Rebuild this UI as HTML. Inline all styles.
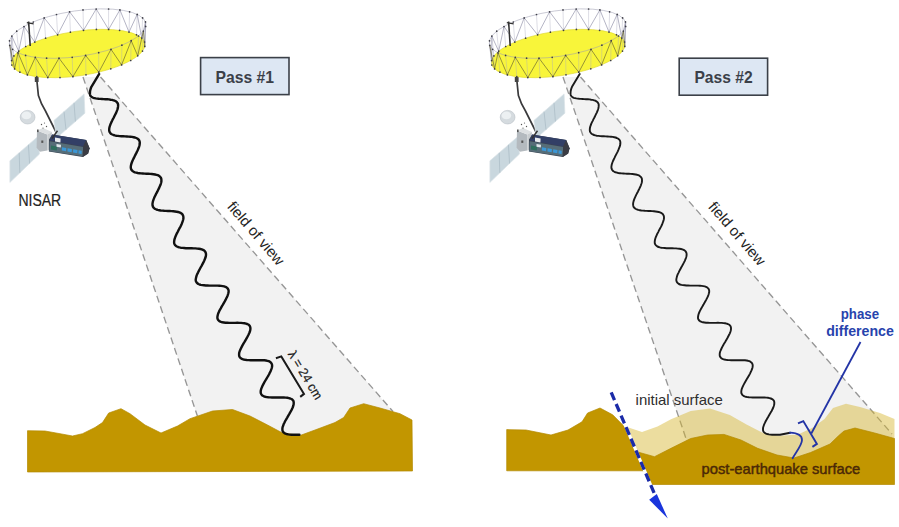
<!DOCTYPE html>
<html><head><meta charset="utf-8"><title>NISAR interferometry</title>
<style>
html,body{margin:0;padding:0;background:#fff}
svg{display:block}
text{font-family:"Liberation Sans",sans-serif}
</style></head>
<body>
<svg width="899" height="527" viewBox="0 0 899 527">
<defs>
<g id="sat">
  <!-- boom -->
  <path d="M36.6,78 L38.4,95.5 Q41,104 45.5,111 L56.5,133" fill="none" stroke="#3a3a3c" stroke-width="1.7"/>
  <rect x="34.8" y="77" width="3.8" height="5" fill="#444"/>
  <!-- reflector -->
  <ellipse cx="78.2" cy="53.5" rx="67.5" ry="22.3" transform="rotate(-8.5 78.2 53.5)" fill="#f8f53a" stroke="#dcd62e" stroke-width="0.6"/>
  <ellipse cx="77.6" cy="33.6" rx="69.0" ry="22.8" transform="rotate(-8.5 77.6 33.6)" fill="none" stroke="#9a9ab0" stroke-width="0.5"/>
  <path d="M145.5,21.9L144.6,42M145.7,26.4L144.8,46.4M143.4,31.1L142.5,51.1M138.5,36L137.7,55.8M131.2,40.7L130.7,60.5M121.9,45.2L121.6,64.9M111,49.3L110.8,68.8M98.7,52.7L98.8,72.2M85.6,55.4L86,74.8M72.2,57.3L72.9,76.7M59,58.2L60,77.6M46.6,58.2L47.8,77.6M35.3,57.3L36.8,76.7M25.6,55.4L27.4,74.9M18,52.8L19.9,72.2M12.6,49.3L14.6,68.9M9.7,45.3L11.8,65M9.5,40.8L11.6,60.6M11.8,36.1L13.9,55.9M16.7,31.2L18.7,51.2M24,26.5L25.7,46.5M33.3,22L34.8,42.1M44.2,17.9L45.6,38.2M56.5,14.5L57.6,34.8M69.6,11.8L70.4,32.2M83,9.9L83.5,30.3M96.2,9L96.4,29.4M108.6,9L108.6,29.4M119.9,9.9L119.6,30.3M129.6,11.8L129,32.1M137.2,14.4L136.5,34.8M142.6,17.9L141.8,38.1" stroke="#a9a9bd" stroke-width="0.4" fill="none"/>
  <path d="M145.5,21.9L144.8,46.4M9.7,45.3L11.6,60.6M11.6,60.6L11.8,36.1M11.8,36.1L18.7,51.2M18.7,51.2L24,26.5M24,26.5L34.8,42.1M34.8,42.1L44.2,17.9M44.2,17.9L57.6,34.8M57.6,34.8L69.6,11.8M69.6,11.8L83.5,30.3M83.5,30.3L96.2,9M96.2,9L108.6,29.4M108.6,29.4L119.9,9.9M119.9,9.9L129,32.1M129,32.1L137.2,14.4M137.2,14.4L141.8,38.1M141.8,38.1L145.5,21.9" stroke="#8d8da6" stroke-width="0.65" fill="none"/>
  <path d="M144.8,46.4L143.4,31.1M143.4,31.1L137.7,55.8M137.7,55.8L131.2,40.7M131.2,40.7L121.6,64.9M121.6,64.9L111,49.3M111,49.3L98.8,72.2M98.8,72.2L85.6,55.4M85.6,55.4L72.9,76.7M72.9,76.7L59,58.2M59,58.2L47.8,77.6M47.8,77.6L35.3,57.3M35.3,57.3L27.4,74.9M27.4,74.9L18,52.8M18,52.8L14.6,68.9M14.6,68.9L9.7,45.3" stroke="#6e6a34" stroke-width="0.7" fill="none"/>
  <g fill="#3d3d45"><circle cx="145.5" cy="21.9" r="0.85"/><circle cx="145.7" cy="26.4" r="0.85"/><circle cx="143.4" cy="31.1" r="0.85"/><circle cx="138.5" cy="36" r="0.85"/><circle cx="131.2" cy="40.7" r="0.85"/><circle cx="121.9" cy="45.2" r="0.85"/><circle cx="111" cy="49.3" r="0.85"/><circle cx="98.7" cy="52.7" r="0.85"/><circle cx="85.6" cy="55.4" r="0.85"/><circle cx="72.2" cy="57.3" r="0.85"/><circle cx="59" cy="58.2" r="0.85"/><circle cx="46.6" cy="58.2" r="0.85"/><circle cx="35.3" cy="57.3" r="0.85"/><circle cx="25.6" cy="55.4" r="0.85"/><circle cx="18" cy="52.8" r="0.85"/><circle cx="12.6" cy="49.3" r="0.85"/><circle cx="9.7" cy="45.3" r="0.85"/><circle cx="9.5" cy="40.8" r="0.85"/><circle cx="11.8" cy="36.1" r="0.85"/><circle cx="16.7" cy="31.2" r="0.85"/><circle cx="24" cy="26.5" r="0.85"/><circle cx="33.3" cy="22" r="0.85"/><circle cx="44.2" cy="17.9" r="0.85"/><circle cx="56.5" cy="14.5" r="0.85"/><circle cx="69.6" cy="11.8" r="0.85"/><circle cx="83" cy="9.9" r="0.85"/><circle cx="96.2" cy="9" r="0.85"/><circle cx="108.6" cy="9" r="0.85"/><circle cx="119.9" cy="9.9" r="0.85"/><circle cx="129.6" cy="11.8" r="0.85"/><circle cx="137.2" cy="14.4" r="0.85"/><circle cx="142.6" cy="17.9" r="0.85"/><circle cx="144.6" cy="42" r="0.85"/><circle cx="144.8" cy="46.4" r="0.85"/><circle cx="142.5" cy="51.1" r="0.85"/><circle cx="137.7" cy="55.8" r="0.85"/><circle cx="130.7" cy="60.5" r="0.85"/><circle cx="121.6" cy="64.9" r="0.85"/><circle cx="110.8" cy="68.8" r="0.85"/><circle cx="98.8" cy="72.2" r="0.85"/><circle cx="86" cy="74.8" r="0.85"/><circle cx="72.9" cy="76.7" r="0.85"/><circle cx="60" cy="77.6" r="0.85"/><circle cx="47.8" cy="77.6" r="0.85"/><circle cx="36.8" cy="76.7" r="0.85"/><circle cx="27.4" cy="74.9" r="0.85"/><circle cx="19.9" cy="72.2" r="0.85"/><circle cx="14.6" cy="68.9" r="0.85"/><circle cx="11.8" cy="65" r="0.85"/><circle cx="11.6" cy="60.6" r="0.85"/><circle cx="13.9" cy="55.9" r="0.85"/><circle cx="18.7" cy="51.2" r="0.85"/><circle cx="25.7" cy="46.5" r="0.85"/><circle cx="34.8" cy="42.1" r="0.85"/><circle cx="45.6" cy="38.2" r="0.85"/><circle cx="57.6" cy="34.8" r="0.85"/><circle cx="70.4" cy="32.2" r="0.85"/><circle cx="83.5" cy="30.3" r="0.85"/><circle cx="96.4" cy="29.4" r="0.85"/><circle cx="108.6" cy="29.4" r="0.85"/><circle cx="119.6" cy="30.3" r="0.85"/><circle cx="129" cy="32.1" r="0.85"/><circle cx="136.5" cy="34.8" r="0.85"/><circle cx="141.8" cy="38.1" r="0.85"/></g>
  <!-- mast -->
  <path d="M28.6,21.5 L30.2,46" stroke="#333" stroke-width="1.6" fill="none"/>
  <path d="M26.8,22.6 L33.6,23.8" stroke="#333" stroke-width="1.3" fill="none"/>
  <!-- high gain antenna -->
  <ellipse cx="27.6" cy="117.2" rx="7.4" ry="6.8" fill="#d5dbdf" stroke="#b9c0c6" stroke-width="0.6"/>
  <ellipse cx="26.4" cy="115.4" rx="4.8" ry="3.9" fill="#ecf0f2"/>
  <!-- upper solar panel -->
  <polygon points="53.9,120.5 84.1,93.9 84.9,113.2 56.5,138" fill="#c9d7de" stroke="#dbe4e8" stroke-width="0.7"/>
  <path d="M64,111.6 L66,129.7 M74,102.8 L75.4,121.5" stroke="#a9bac4" stroke-width="0.7"/>
  <!-- lower solar panel -->
  <polygon points="37.7,136.7 9.9,160.8 9.9,182.4 39.5,154" fill="#c9d7de" stroke="#dbe4e8" stroke-width="0.7"/>
  <path d="M28.4,144.7 L29.6,163.5 M19.2,152.8 L19.8,172.9" stroke="#a9bac4" stroke-width="0.7"/>
  <!-- bus: gray box -->
  <polygon points="37,130.4 47.3,134.4 47.3,150.5 40,151.8 36.6,147.8" fill="#b4babf"/>
  <polygon points="37,130.4 43,128 52,132 47.3,134.4" fill="#dde0e2"/>
  <polygon points="47.3,134.4 52,132 52,148 47.3,150.5" fill="#c9cdd0"/>
  <rect x="41.3" y="140.5" width="2" height="2.4" fill="#555"/>
  <g fill="#555"><circle cx="41.5" cy="124.5" r=".7"/><circle cx="44.5" cy="123" r=".6"/><circle cx="46.5" cy="126.5" r=".7"/><circle cx="43" cy="128" r=".6"/><rect x="37" y="129.5" width="1.6" height="2.6"/></g>
  <!-- radar electronics box -->
  <polygon points="52.1,134.5 86.2,140 89.6,148.2 88.2,153.5 82.8,156.9 48.9,151.6 49,139.6" fill="#3b4250"/>
  <polygon points="52.1,134.5 86.2,140 83.2,146.4 49.6,140.6" fill="#323f66"/>
  <polygon points="49.6,141.2 83.2,147 82.6,156.3 49.2,151.2" fill="#566d78"/>
  <polygon points="83.2,146.6 86.2,140 89.6,148.2 88.2,153.5 82.8,156.9" fill="#3a3c44"/>
  <path d="M62,147.2 l4.3,.75 l-.2,3.3 l-4.3,-.75z M67.6,148.2 l4.3,.75 l-.2,3.3 l-4.3,-.75z M73.2,149.2 l4.3,.75 l-.2,3.3 l-4.3,-.75z M78.6,150.2 l3.2,.6 l-.2,3.2 l-3.2,-.6z" fill="#3b97d6"/>
  <polygon points="51,145.5 57,146.5 56.8,150.5 51,149.5" fill="#2f6f5e"/>
  <polygon points="55,137.6 60.6,138.6 60.4,142.4 55,141.4" fill="#e9ecee"/>
  <polygon points="56.5,144 61,144.8 60.8,147.6 56.5,146.8" fill="#dfe6ea"/>
  <path d="M52,138.5 L57.5,130.8" stroke="#333" stroke-width="1.5"/>
</g>
</defs>
<rect width="899" height="527" fill="#fff"/>

<!-- ===== LEFT PANEL ===== -->
<polygon points="83,77 100.5,77 393,411.5 393,440 197.4,440 197.4,416" fill="#f2f2f2"/>
<path d="M83,77 L197.4,416" stroke="#969696" stroke-width="1.35" stroke-dasharray="7 4" fill="none"/>
<path d="M100.5,77 L393,411.5" stroke="#969696" stroke-width="1.35" stroke-dasharray="7 4" fill="none"/>
<polygon points="27.5,430.7 45,431 60,433.7 72.5,436 82.5,433.7 95,427.5 102.5,422.5 108.7,413 121,408.7 130,413.7 145,425 161,433 177.5,426 190,418.7 212.5,411 232.5,409.5 250,416 267.5,425 282.5,433 300,435.5 315,430 335,422.5 343.7,417.5 350,408 363.7,403.7 380,408 400,413.7 412,420 412.5,471 27.5,472" fill="#c29600" stroke="#b38a00" stroke-width="0.7" stroke-linejoin="round"/>
<path d="M99.1,74.1L91.4,86.8L90.8,88.3L90.4,89.7L90.1,91L90,92.3L89.9,93.4L90,94.4L90.2,95.3L90.7,96.1L91.4,96.7L92.2,97.3L93.2,97.8L94.4,98.1L95.7,98.4L97.2,98.6L98.7,98.8L100.3,98.9L102,99L103.6,99.1L105.5,99.2L107.3,99.3L109,99.4L110.6,99.7L112.1,99.9L113.5,100.3L114.7,100.7L115.8,101.3L116.6,101.9L117.3,102.7L117.8,103.6L118.1,104.6L118.1,105.7L118,106.9L117.8,108.2L117.4,109.6L116.8,111.1L116.2,112.6L115.4,114.2L114.6,115.8L113.8,117.5L112.9,119.1L112.1,120.8L111.3,122.4L110.6,123.9L110.1,125.4L109.6,126.8L109.3,128.2L109.2,129.4L109.2,130.5L109.4,131.6L109.9,132.5L110.5,133.3L111.3,134L112.3,134.5L113.5,135L114.8,135.4L116.3,135.7L117.9,135.9L119.6,136.1L121.4,136.2L123.2,136.3L125,136.4L126.9,136.5L128.7,136.6L130.4,136.7L132.1,136.9L133.6,137.2L135,137.5L136.2,138L137.3,138.5L138.2,139.2L138.9,139.9L139.4,140.8L139.7,141.8L139.8,142.8L139.7,144L139.5,145.3L139.1,146.7L138.5,148.2L137.9,149.7L137.2,151.3L136.4,152.9L135.5,154.6L134.7,156.2L133.9,157.9L133.1,159.5L132.4,161L131.8,162.5L131.3,164L131,165.3L130.8,166.6L130.8,167.7L131,168.7L131.4,169.7L132,170.5L132.8,171.2L133.8,171.8L134.9,172.3L136.3,172.6L137.7,173L139.3,173.2L141,173.4L142.8,173.5L144.6,173.6L146.4,173.7L148.3,173.8L150.1,173.9L151.8,174L153.5,174.2L155.1,174.5L156.5,174.8L157.7,175.2L158.8,175.7L159.7,176.4L160.4,177.1L161,178L161.3,178.9L161.4,180L161.4,181.2L161.2,182.5L160.8,183.8L160.3,185.3L159.6,186.8L158.9,188.4L158.1,190L157.3,191.7L156.4,193.3L155.6,194.9L154.8,196.6L154.1,198.1L153.5,199.6L153,201.1L152.7,202.4L152.5,203.7L152.5,204.9L152.7,205.9L153,206.9L153.6,207.7L154.4,208.4L155.3,209L156.4,209.5L157.7,209.9L159.2,210.2L160.7,210.5L162.4,210.6L164.2,210.8L166,210.9L167.9,211L169.7,211L171.6,211.1L173.3,211.3L175,211.5L176.6,211.7L178.1,212L179.4,212.4L180.5,212.9L181.5,213.5L182.3,214.2L182.8,215.1L183.2,216L183.4,217.1L183.4,218.2L183.2,219.5L182.8,220.9L182.3,222.3L181.7,223.9L181,225.5L180.2,227.1L179.3,228.7L178.4,230.4L177.6,232.1L176.7,233.7L176,235.3L175.3,236.9L174.8,238.3L174.4,239.7L174.2,241L174.1,242.2L174.2,243.3L174.6,244.3L175.1,245.1L175.9,245.8L176.8,246.5L178,247L179.3,247.4L180.7,247.7L182.4,247.9L184.1,248L185.9,248.2L187.8,248.2L189.7,248.3L191.7,248.3L193.6,248.4L195.4,248.4L197.2,248.6L198.9,248.8L200.4,249L201.8,249.4L203,249.9L204,250.4L204.8,251.1L205.4,252L205.8,252.9L206,253.9L206,255.1L205.8,256.4L205.4,257.8L204.8,259.3L204.2,260.8L203.4,262.4L202.5,264.1L201.6,265.8L200.6,267.5L199.7,269.2L198.8,270.9L198,272.6L197.2,274.1L196.6,275.7L196.2,277.1L195.9,278.4L195.7,279.6L195.8,280.8L196.1,281.7L196.7,282.6L197.4,283.3L198.3,284L199.5,284.5L200.8,284.9L202.3,285.1L204,285.3L205.8,285.5L207.6,285.5L209.6,285.6L211.6,285.6L213.6,285.6L215.6,285.6L217.5,285.6L219.4,285.7L221.1,285.9L222.7,286.1L224.2,286.4L225.4,286.8L226.5,287.4L227.3,288.1L228,288.9L228.4,289.8L228.6,290.8L228.6,292L228.3,293.3L227.9,294.7L227.4,296.2L226.6,297.8L225.8,299.4L224.9,301.1L223.9,302.8L222.9,304.6L221.8,306.4L220.9,308.1L219.9,309.8L219.1,311.4L218.4,313L217.9,314.4L217.6,315.8L217.4,317L217.4,318.2L217.7,319.2L218.2,320L218.9,320.8L219.8,321.4L221,321.9L222.3,322.3L223.8,322.5L225.5,322.7L227.3,322.8L229.2,322.9L231.2,322.9L233.2,322.9L235.3,322.9L237.3,322.8L239.2,322.9L241.1,322.9L242.9,323.1L244.5,323.3L246,323.6L247.2,324L248.3,324.5L249.2,325.2L249.8,326L250.2,326.9L250.4,327.9L250.4,329.1L250.2,330.4L249.8,331.8L249.2,333.3L248.5,334.8L247.6,336.5L246.7,338.2L245.7,339.9L244.7,341.7L243.6,343.4L242.6,345.2L241.7,346.9L240.9,348.5L240.2,350.1L239.6,351.5L239.2,352.9L239.1,354.2L239.1,355.3L239.3,356.3L239.8,357.2L240.5,358L241.4,358.6L242.5,359.1L243.8,359.5L245.3,359.8L246.9,360L248.7,360.1L250.6,360.2L252.6,360.2L254.6,360.2L256.6,360.2L258.7,360.1L260.6,360.2L262.5,360.2L264.3,360.3L266,360.5L267.4,360.8L268.7,361.2L269.8,361.7L270.7,362.4L271.4,363.2L271.8,364L272.1,365.1L272.1,366.2L271.9,367.5L271.5,368.9L270.9,370.4L270.2,371.9L269.4,373.6L268.5,375.3L267.5,377L266.4,378.8L265.4,380.5L264.4,382.2L263.5,383.9L262.6,385.6L261.9,387.2L261.3,388.6L260.9,390L260.7,391.3L260.7,392.5L260.9,393.5L261.4,394.4L262,395.2L262.9,395.8L264,396.4L265.2,396.8L266.7,397.1L268.4,397.3L270.1,397.4L272,397.5L274,397.5L276,397.5L278,397.5L280.1,397.4L282,397.5L283.9,397.5L285.7,397.6L287.4,397.8L288.9,398.1L290.2,398.5L291.4,399L292.3,399.6L293,400.3L293.5,401.2L293.7,402.2L293.7,403.4L293.6,404.6L293.2,406L292.7,407.5L292,409L291.2,410.7L290.2,412.3L289.2,414.1L288.2,415.8L287.2,417.6L286.2,419.3L285.2,421L284.4,422.7L283.6,424.3L283.1,425.8L282.6,427.2L282.4,428.5L282.4,429.6L282.5,430.7L282.9,431.6L283.6,432.4L284.4,433.1L285.5,433.6L286.7,434L288.2,434.4L289.8,434.6L291.5,434.7L293.4,434.8L295.4,434.8L297.4,434.8L299.4,434.8" fill="none" stroke="#111" stroke-width="2.4" stroke-linecap="round" stroke-linejoin="round"/>
<use href="#sat"/>
<path d="M275.9,358.2 L281.3,356.4 L304,393.9 L300.2,396.9" fill="none" stroke="#1a1a1a" stroke-width="2" stroke-linejoin="miter"/>
<text transform="translate(287.5,354) rotate(59)" font-size="13" fill="#1a1a1a" stroke="#1a1a1a" stroke-width="0.2" textLength="54.5" lengthAdjust="spacingAndGlyphs">λ = 24 cm</text>
<text transform="translate(226.4,207) rotate(49.2)" font-size="15" fill="#222" textLength="78.5" lengthAdjust="spacingAndGlyphs">field of view</text>
<text x="18.4" y="206.3" font-size="16" fill="#222" stroke="#222" stroke-width="0.2" textLength="42.8" lengthAdjust="spacingAndGlyphs">NISAR</text>
<rect x="200.6" y="57.6" width="88.4" height="37" fill="#dde7f3" stroke="#3b4048" stroke-width="1.6"/>
<text x="215.4" y="83.3" font-size="16.7" font-weight="bold" fill="#3b4048" textLength="58.6" lengthAdjust="spacingAndGlyphs">Pass #1</text>

<!-- ===== RIGHT PANEL ===== -->
<polygon points="563,77 580.5,77 892,434 892,462 686.5,462 686.5,440" fill="#f2f2f2"/>
<path d="M563,77 L686.5,440" stroke="#969696" stroke-width="1.35" stroke-dasharray="7 4" fill="none"/>
<path d="M580.5,77 L892,434" stroke="#969696" stroke-width="1.35" stroke-dasharray="7 4" fill="none"/>
<polygon points="624,426 642,432 657.5,426.4 671,419.3 690.7,411 710,408.5 729.8,415 746.5,424.6 763,433 780,435.8 798,434.5 813,427.4 824.5,419 833,408 846,403.7 860,407 880,413 894.5,419 894.5,460 640,460" fill="rgb(213,179,42)" fill-opacity="0.45"/>
<polygon points="506.7,429.6 526,430 551,435 568,430 582,421.8 587.6,413 600,408 612.7,414.8 623.8,426 630,438 637.8,452 654.5,456.7 671,448.3 690.7,438.5 707.5,435 724,434.4 741,440 757.6,448.3 777,455 794,458 810.6,452.5 830,444 838.5,435.8 844,431 855,428 874.7,433 894.5,438.5 894.5,484.5 650,484.5 644.2,470.8 506.7,470.8" fill="#c29600" stroke="#b38a00" stroke-width="0.7" stroke-linejoin="round"/>
<g transform="translate(480.6,0)"><path d="M99.1,74.1L91.4,86.8L90.8,88.3L90.4,89.7L90.1,91L90,92.3L89.9,93.4L90,94.4L90.2,95.3L90.7,96.1L91.4,96.7L92.2,97.3L93.2,97.8L94.4,98.1L95.7,98.4L97.2,98.6L98.7,98.8L100.3,98.9L102,99L103.6,99.1L105.5,99.2L107.3,99.3L109,99.4L110.6,99.7L112.1,99.9L113.5,100.3L114.7,100.7L115.8,101.3L116.6,101.9L117.3,102.7L117.8,103.6L118.1,104.6L118.1,105.7L118,106.9L117.8,108.2L117.4,109.6L116.8,111.1L116.2,112.6L115.4,114.2L114.6,115.8L113.8,117.5L112.9,119.1L112.1,120.8L111.3,122.4L110.6,123.9L110.1,125.4L109.6,126.8L109.3,128.2L109.2,129.4L109.2,130.5L109.4,131.6L109.9,132.5L110.5,133.3L111.3,134L112.3,134.5L113.5,135L114.8,135.4L116.3,135.7L117.9,135.9L119.6,136.1L121.4,136.2L123.2,136.3L125,136.4L126.9,136.5L128.7,136.6L130.4,136.7L132.1,136.9L133.6,137.2L135,137.5L136.2,138L137.3,138.5L138.2,139.2L138.9,139.9L139.4,140.8L139.7,141.8L139.8,142.8L139.7,144L139.5,145.3L139.1,146.7L138.5,148.2L137.9,149.7L137.2,151.3L136.4,152.9L135.5,154.6L134.7,156.2L133.9,157.9L133.1,159.5L132.4,161L131.8,162.5L131.3,164L131,165.3L130.8,166.6L130.8,167.7L131,168.7L131.4,169.7L132,170.5L132.8,171.2L133.8,171.8L134.9,172.3L136.3,172.6L137.7,173L139.3,173.2L141,173.4L142.8,173.5L144.6,173.6L146.4,173.7L148.3,173.8L150.1,173.9L151.8,174L153.5,174.2L155.1,174.5L156.5,174.8L157.7,175.2L158.8,175.7L159.7,176.4L160.4,177.1L161,178L161.3,178.9L161.4,180L161.4,181.2L161.2,182.5L160.8,183.8L160.3,185.3L159.6,186.8L158.9,188.4L158.1,190L157.3,191.7L156.4,193.3L155.6,194.9L154.8,196.6L154.1,198.1L153.5,199.6L153,201.1L152.7,202.4L152.5,203.7L152.5,204.9L152.7,205.9L153,206.9L153.6,207.7L154.4,208.4L155.3,209L156.4,209.5L157.7,209.9L159.2,210.2L160.7,210.5L162.4,210.6L164.2,210.8L166,210.9L167.9,211L169.7,211L171.6,211.1L173.3,211.3L175,211.5L176.6,211.7L178.1,212L179.4,212.4L180.5,212.9L181.5,213.5L182.3,214.2L182.8,215.1L183.2,216L183.4,217.1L183.4,218.2L183.2,219.5L182.8,220.9L182.3,222.3L181.7,223.9L181,225.5L180.2,227.1L179.3,228.7L178.4,230.4L177.6,232.1L176.7,233.7L176,235.3L175.3,236.9L174.8,238.3L174.4,239.7L174.2,241L174.1,242.2L174.2,243.3L174.6,244.3L175.1,245.1L175.9,245.8L176.8,246.5L178,247L179.3,247.4L180.7,247.7L182.4,247.9L184.1,248L185.9,248.2L187.8,248.2L189.7,248.3L191.7,248.3L193.6,248.4L195.4,248.4L197.2,248.6L198.9,248.8L200.4,249L201.8,249.4L203,249.9L204,250.4L204.8,251.1L205.4,252L205.8,252.9L206,253.9L206,255.1L205.8,256.4L205.4,257.8L204.8,259.3L204.2,260.8L203.4,262.4L202.5,264.1L201.6,265.8L200.6,267.5L199.7,269.2L198.8,270.9L198,272.6L197.2,274.1L196.6,275.7L196.2,277.1L195.9,278.4L195.7,279.6L195.8,280.8L196.1,281.7L196.7,282.6L197.4,283.3L198.3,284L199.5,284.5L200.8,284.9L202.3,285.1L204,285.3L205.8,285.5L207.6,285.5L209.6,285.6L211.6,285.6L213.6,285.6L215.6,285.6L217.5,285.6L219.4,285.7L221.1,285.9L222.7,286.1L224.2,286.4L225.4,286.8L226.5,287.4L227.3,288.1L228,288.9L228.4,289.8L228.6,290.8L228.6,292L228.3,293.3L227.9,294.7L227.4,296.2L226.6,297.8L225.8,299.4L224.9,301.1L223.9,302.8L222.9,304.6L221.8,306.4L220.9,308.1L219.9,309.8L219.1,311.4L218.4,313L217.9,314.4L217.6,315.8L217.4,317L217.4,318.2L217.7,319.2L218.2,320L218.9,320.8L219.8,321.4L221,321.9L222.3,322.3L223.8,322.5L225.5,322.7L227.3,322.8L229.2,322.9L231.2,322.9L233.2,322.9L235.3,322.9L237.3,322.8L239.2,322.9L241.1,322.9L242.9,323.1L244.5,323.3L246,323.6L247.2,324L248.3,324.5L249.2,325.2L249.8,326L250.2,326.9L250.4,327.9L250.4,329.1L250.2,330.4L249.8,331.8L249.2,333.3L248.5,334.8L247.6,336.5L246.7,338.2L245.7,339.9L244.7,341.7L243.6,343.4L242.6,345.2L241.7,346.9L240.9,348.5L240.2,350.1L239.6,351.5L239.2,352.9L239.1,354.2L239.1,355.3L239.3,356.3L239.8,357.2L240.5,358L241.4,358.6L242.5,359.1L243.8,359.5L245.3,359.8L246.9,360L248.7,360.1L250.6,360.2L252.6,360.2L254.6,360.2L256.6,360.2L258.7,360.1L260.6,360.2L262.5,360.2L264.3,360.3L266,360.5L267.4,360.8L268.7,361.2L269.8,361.7L270.7,362.4L271.4,363.2L271.8,364L272.1,365.1L272.1,366.2L271.9,367.5L271.5,368.9L270.9,370.4L270.2,371.9L269.4,373.6L268.5,375.3L267.5,377L266.4,378.8L265.4,380.5L264.4,382.2L263.5,383.9L262.6,385.6L261.9,387.2L261.3,388.6L260.9,390L260.7,391.3L260.7,392.5L260.9,393.5L261.4,394.4L262,395.2L262.9,395.8L264,396.4L265.2,396.8L266.7,397.1L268.4,397.3L270.1,397.4L272,397.5L274,397.5L276,397.5L278,397.5L280.1,397.4L282,397.5L283.9,397.5L285.7,397.6L287.4,397.8L288.9,398.1L290.2,398.5L291.4,399L292.3,399.6L293,400.3L293.5,401.2L293.7,402.2L293.7,403.4L293.6,404.6L293.2,406L292.7,407.5L292,409L291.2,410.7L290.2,412.3L289.2,414.1L288.2,415.8L287.2,417.6L286.2,419.3L285.2,421L284.4,422.7L283.6,424.3L283.1,425.8L282.6,427.2L282.4,428.5L282.4,429.6L282.5,430.7L282.9,431.6L283.6,432.4L284.4,433.1L285.5,433.6L286.7,434L288.2,434.4L289.8,434.6L291.5,434.7L293.4,434.8L295.4,434.8L297.4,434.8L299.4,434.8L309.6,432.7" fill="none" stroke="#1a1a1a" stroke-width="1.9" stroke-linecap="round" stroke-linejoin="round"/></g>
<use href="#sat" x="480"/>
<text transform="translate(707.6,207.3) rotate(49.2)" font-size="15" fill="#222" textLength="78.5" lengthAdjust="spacingAndGlyphs">field of view</text>
<!-- blue continuation of wave -->
<path d="M790,432.7 C796,433 802,434.5 802,440 C802,445 796,452 792.6,458.3" fill="none" stroke="#2334a6" stroke-width="1.8" stroke-linecap="round"/>
<!-- phase bracket + leader -->
<path d="M798,423.4 L803.3,421.1 L816.9,443.9 L812.4,446.9" fill="none" stroke="#2334a6" stroke-width="1.9"/>
<path d="M860.5,342 L811.3,433.5" fill="none" stroke="#2334a6" stroke-width="1.8"/>
<text x="840.7" y="318.7" font-size="14" font-weight="bold" fill="#2743ad" textLength="38.4" lengthAdjust="spacingAndGlyphs">phase</text>
<text x="826.2" y="335.5" font-size="14" font-weight="bold" fill="#2743ad" textLength="67.7" lengthAdjust="spacingAndGlyphs">difference</text>
<!-- fault arrow -->
<path d="M611.2,392.4 L654.4,493.6" stroke="#fff" stroke-width="3" fill="none"/>
<path d="M611.2,392.4 L654.4,493.6" stroke="#1b2ba8" stroke-width="3.3" stroke-dasharray="8.4 4.2" fill="none"/>
<polygon points="649.2,499.7 656.8,494.1 667.8,518.6" fill="#1a35dc"/>
<text x="635.6" y="404.6" font-size="15" fill="#2e2e2e" textLength="87.2" lengthAdjust="spacingAndGlyphs">initial surface</text>
<text x="701.6" y="474.4" font-size="15" fill="#4a2807" stroke="#4a2807" stroke-width="0.45" textLength="158.6" lengthAdjust="spacingAndGlyphs">post-earthquake surface</text>
<rect x="679.2" y="58.2" width="88.4" height="37" fill="#dde7f3" stroke="#3b4048" stroke-width="1.6"/>
<text x="694.4" y="83.4" font-size="16.7" font-weight="bold" fill="#3b4048" textLength="58.2" lengthAdjust="spacingAndGlyphs">Pass #2</text>
</svg>
</body></html>
